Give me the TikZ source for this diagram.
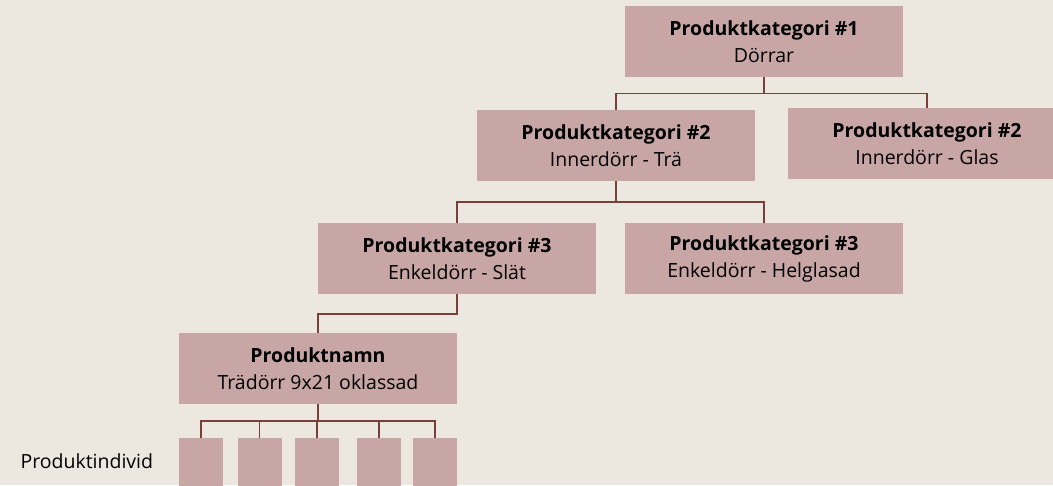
\documentclass[tikz,border=0pt]{standalone}
\usepackage{fontspec}
\setmainfont{Open Sans}
\usetikzlibrary{positioning}
\definecolor{Bg_Linen}{HTML}{EDE8DF}
\definecolor{Box_Rose}{HTML}{C8A6A6}
\definecolor{Line_Brown}{HTML}{7B3F3B}
\tikzset{
    katbox/.style={fill=Box_Rose, minimum width=278pt, minimum height=71pt, align=center, inner sep=0pt, font=\fontsize{19.5}{27}\selectfont},
    indbox/.style={fill=Box_Rose, minimum width=44pt, minimum height=50pt, inner sep=0pt},
    tree/.style={draw=Line_Brown, line width=1.5pt}
}

\begin{document}
\begin{tikzpicture}[x=1pt, y=-1pt]
    % Background
    \fill[Bg_Linen] (0,0) rectangle (1053,485);
    \useasboundingbox (0,0) rectangle (1053,485);

    % Categories
    \node[katbox] (kat1) at (764,41.5) {\textbf{Produktkategori \#1}\\Dörrar};
    \node[katbox] (kat2a) at (616,145.5) {\textbf{Produktkategori \#2}\\Innerdörr - Trä};
    \node[katbox] (kat2b) at (927,143.5) {\textbf{Produktkategori \#2}\\Innerdörr - Glas};
    \node[katbox] (kat3a) at (457,258.5) {\textbf{Produktkategori \#3}\\Enkeldörr - Slät};
    \node[katbox] (kat3b) at (764,258.5) {\textbf{Produktkategori \#3}\\Enkeldörr - Helglasad};

    % Product name
    \node[katbox] (namn) at (318,368.5) {\textbf{Produktnamn}\\Trädörr 9x21 oklassad};

    % Individuals
    \foreach \x [count=\i] in {201,259.5,317,379,435}
        \node[indbox] (ind\i) at (\x,463) {};
    \node[anchor=west, font=\fontsize{19.5}{24}\selectfont] (indlabel) at (17,461) {Produktindivid};

    % Tree lines
    \draw[tree] (kat1.south) -- ++(0,16.5) -| (kat2a.north);
    \draw[tree] (kat1.south) -- ++(0,16.5) -| (kat2b.north);
    \draw[tree] (kat2a.south) -- ++(0,21) -| (kat3a.north);
    \draw[tree] (kat2a.south) -- ++(0,21) -| (kat3b.north);
    \draw[tree] (kat3a.south) -- ++(0,20) -| (namn.north);
    \foreach \i in {1,...,5}
        \draw[tree] (namn.south) -- ++(0,17) -| (ind\i.north);
\end{tikzpicture}
\end{document}
